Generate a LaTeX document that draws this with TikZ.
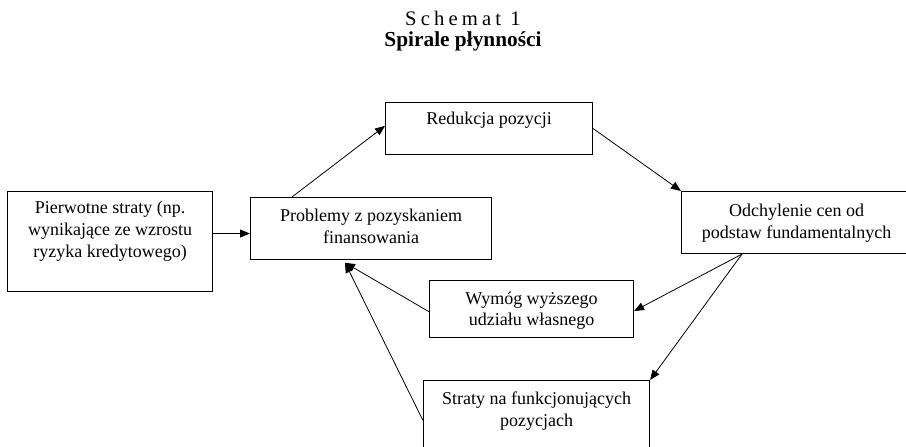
\documentclass[tikz,border=0pt]{standalone}
\usepackage{fontspec}
\setmainfont{Liberation Serif}
\newfontfamily\spacedfont[LetterSpace=20]{Liberation Serif}
\usetikzlibrary{arrows.meta}

\tikzset{
  box/.style={draw, line width=0.8pt, anchor=north west, inner sep=0pt},
  txt/.style={anchor=north, align=center, inner sep=0pt, font=\fontsize{13.5}{16.3}\selectfont},
  arr/.style={-{Triangle[length=7.5pt,width=6pt]}, line width=0.6pt}
}

\begin{document}
\begin{tikzpicture}[x=0.75pt, y=-0.75pt]
                \useasboundingbox (0, 0) rectangle (906, 446);
                \node[inner sep=0pt, font=\fontsize{15.5}{18}\selectfont\spacedfont] (nr) at (463, 18) {Schemat 1};
                \node[inner sep=0pt, font=\fontsize{16}{18}\selectfont\bfseries] (title) at (463, 41) {Spirale płynności};
                \node[box, minimum width=153.75pt, minimum height=75pt] (pier) at (7, 191) {};
                \node[box, minimum width=180.75pt, minimum height=46.5pt] (prob) at (250, 197) {};
                \node[box, minimum width=155.25pt, minimum height=39pt] (redu) at (385, 102) {};
                \node[box, minimum width=172.5pt, minimum height=46.5pt] (odch) at (681, 191) {};
                \node[box, minimum width=153pt, minimum height=42.75pt] (wymog) at (429, 280) {};
                \node[box, minimum width=169.5pt, minimum height=60pt] (strat) at (423, 380) {};
                \node[txt] (pier-t) at ([yshift=-7.5pt]pier.north) {Pierwotne straty (np.\\ wynikające ze wzrostu\\ ryzyka kredytowego)};
                \node[txt] (prob-t) at ([yshift=-9pt]prob.north) {Problemy z pozyskaniem\\ finansowania};
                \node[txt] (redu-t) at ([yshift=-7.5pt]redu.north) {Redukcja pozycji};
                \node[txt] (odch-t) at ([yshift=-9.5pt]odch.north) {Odchylenie cen od\\ podstaw fundamentalnych};
                \node[txt] (wymog-t) at ([yshift=-8.5pt]wymog.north) {Wymóg wyższego\\ udziału własnego};
                \node[txt] (strat-t) at ([yshift=-9pt]strat.north) {Straty na funkcjonujących\\ pozycjach};
                \draw[arr] ([yshift=-3.75pt]prob.west -| pier.east) -- ([yshift=-3.75pt]prob.west);
                \draw[arr] ([xshift=31.5pt]prob.north west) -- ([yshift=2pt]redu.west);
                \draw[arr] (redu.east) -- (odch.north west);
                \coordinate (fork) at ([xshift=45.75pt]odch.south west);
                \draw[arr] (fork) -- ([yshift=-1.5pt]wymog.east);
                \draw[arr] (fork) -- (strat.north east);
                \coordinate (join) at ([xshift=71.25pt,yshift=-2pt]prob.south west);
                \draw[arr] ([yshift=-2pt]wymog.west) -- (join);
                \draw[arr] (strat.west) -- (join);
            \end{tikzpicture}
\end{document}
